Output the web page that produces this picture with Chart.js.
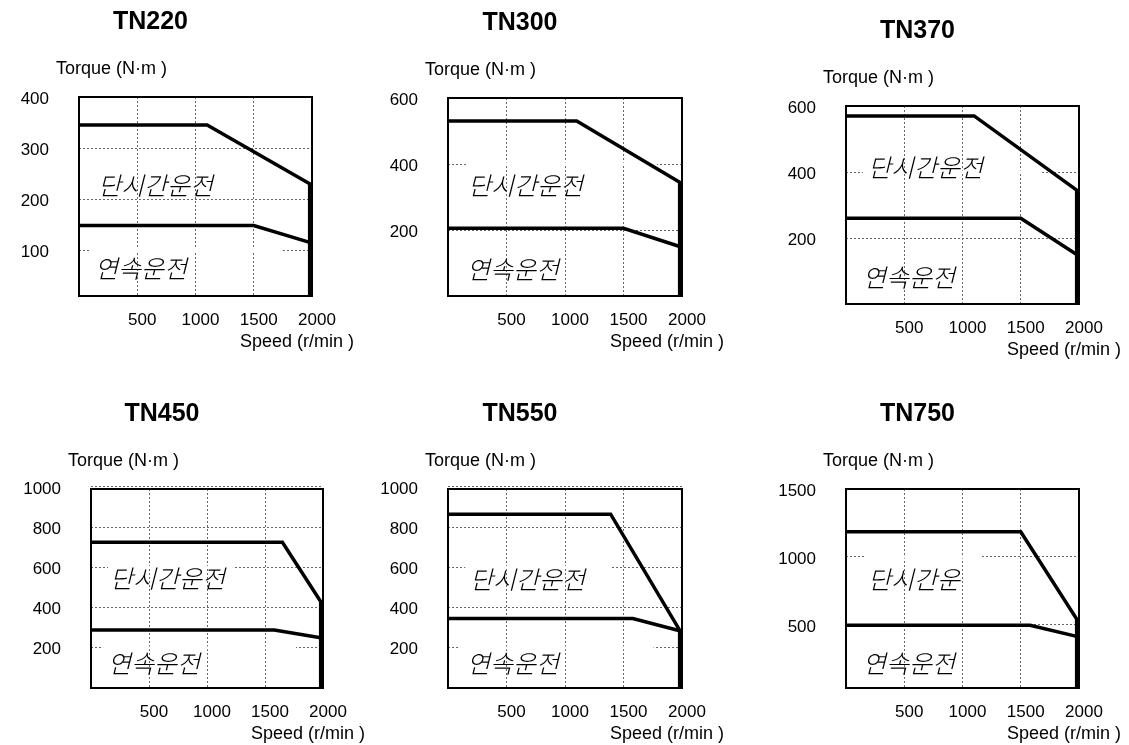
<!DOCTYPE html>
<html lang="ko">
<head>
<meta charset="utf-8">
<title>TN 토크 특성</title>
<script src="https://cdn.jsdelivr.net/npm/chart.js@4.4.1/dist/chart.umd.min.js"></script>
<style>
  html, body { margin: 0; padding: 0; background: #fff; }
  #wrap { position: relative; width: 1129px; height: 745px; overflow: hidden; }
  #wrap canvas { position: absolute; }
</style>
</head>
<body>
<div id="wrap"></div>
<script>
// ---------------------------------------------------------------
// data (speed in r/min, torque in N·m)
// ---------------------------------------------------------------
const models = ["TN220", "TN300", "TN370", "TN450", "TN550", "TN750"];
const speedTicks = [500, 1000, 1500, 2000];
const torqueTicks = [
  [100, 200, 300, 400],
  [200, 400, 600],
  [200, 400, 600],
  [200, 400, 600, 800, 1000],
  [200, 400, 600, 800, 1000],
  [500, 1000, 1500]
];

// short-time operation (단시간운전) - ends with the drop at max speed
const shortSpeed = [
  [0, 1100, 1980, 1980],
  [0, 1100, 1980, 1980],
  [0, 1100, 1980, 1980],
  [0, 1650, 1980, 1980],
  [0, 1390, 1980, 1980],
  [0, 1500, 1980, 1980]
];
const shortTorque = [
  [345, 345, 230, 0],
  [530, 530, 345, 0],
  [570, 570, 345, 0],
  [725, 725, 430, 0],
  [865, 865, 288, 0],
  [1185, 1185, 543, 0]
];

// continuous operation (연속운전)
const contSpeed = [
  [0, 1500, 1980],
  [0, 1500, 1980],
  [0, 1500, 1980],
  [0, 1580, 1980],
  [0, 1580, 1980],
  [0, 1580, 1980]
];
const contTorque = [
  [148, 148, 115],
  [205, 205, 150],
  [260, 260, 150],
  [288, 288, 250],
  [346, 346, 285],
  [497, 497, 415]
];

const shortText = ["단시간운전", "단시간운전", "단시간운전", "단시간운전", "단시간운전", "단시간운"];
const contText = "연속운전";

// ---------------------------------------------------------------
// layout (page pixels)
// ---------------------------------------------------------------
const colX = [0, 360, 740];
const colW = [380, 380, 389];   // canvases may overlap, they are transparent
const rowY = [0, 372];
const rowH = [372, 373];
const plotBox = [
  [79, 97, 312, 296],
  [448, 98, 682, 296],
  [846, 106, 1079, 304],
  [91, 489, 323, 688],
  [448, 489, 682, 688],
  [846, 489, 1079, 688]
];
const torqueRange = [[10, 400], [0, 600], [0, 600], [0, 990], [0, 990], [35, 1500]];
const shortPos = [[19, 88], [20, 87], [22, 61], [19, 89], [22, 90], [22, 90]];
const contPos = [[16, 171], [19, 171], [17, 171], [17, 174], [19, 174], [17, 174]];
// horizontal grid pieces hidden behind the labels: [torque, fromSpeed, toSpeed]
const gridGaps = [
  [[100, 100, 1750]],
  [[400, 155, 1786]],
  [[400, 146, 1682]],
  [[600, 147, 1224], [200, 86, 1767]],
  [[600, 147, 1390], [200, 103, 1757]],
  [[1000, 155, 1150]]
];

const AXIS_W = 75;
const AXIS_H = 40;
const SANS = '"Liberation Sans", Arial, sans-serif';

// ---------------------------------------------------------------
// plugin: box, titles, axis names, Korean region labels
// ---------------------------------------------------------------
const paperPlugin = {
  id: "paper",
  beforeDatasetsDraw(chart, args, o) {
    const { ctx, chartArea: a, scales: { x, y } } = chart;
    ctx.save();
    ctx.fillStyle = "#fff";
    o.gaps.forEach(([t, s0, s1]) => {
      const py = y.getPixelForValue(t);
      const x0 = x.getPixelForValue(s0);
      ctx.fillRect(x0, py - 1.5, x.getPixelForValue(s1) - x0, 3);
    });
    ctx.fillStyle = "#000";
    ctx.font = 'italic 300 25px "Noto Sans CJK KR"';
    ctx.textAlign = "left";
    ctx.textBaseline = "middle";
    ctx.fillText(o.shortText, a.left + o.shortPos[0], a.top + o.shortPos[1]);
    ctx.fillText(contText, a.left + o.contPos[0], a.top + o.contPos[1]);
    ctx.restore();
  },
  afterDatasetsDraw(chart, args, o) {
    const { ctx, chartArea: a } = chart;
    ctx.save();
    ctx.strokeStyle = "#000";
    ctx.lineWidth = 2;
    ctx.strokeRect(a.left, a.top, a.right - a.left, a.bottom - a.top);

    ctx.fillStyle = "#000";
    ctx.textBaseline = "middle";
    ctx.font = "bold 25px " + SANS;
    ctx.textAlign = "center";
    ctx.fillText(o.title, (a.left + a.right) / 2 - 45, a.top - 75);

    ctx.font = "18px " + SANS;
    ctx.textAlign = "left";
    ctx.fillText("Torque (N·m )", a.left - 23, a.top - 28);
    ctx.fillText("Speed (r/min )", a.right - 72, a.bottom + 46);
    ctx.restore();
  }
};

// ---------------------------------------------------------------
// build the six charts
// ---------------------------------------------------------------
const wrap = document.getElementById("wrap");

models.forEach((name, i) => {
  const ox = colX[i % 3], oy = rowY[Math.floor(i / 3)];
  const cw = colW[i % 3], ch = rowH[Math.floor(i / 3)];
  const [l, t, r, b] = plotBox[i];

  const canvas = document.createElement("canvas");
  canvas.width = cw;
  canvas.height = ch;
  canvas.style.left = ox + "px";
  canvas.style.top = oy + "px";
  wrap.appendChild(canvas);

  const line = (xs, ys) => xs.map((s, k) => ({ x: s, y: ys[k] }));

  new Chart(canvas.getContext("2d"), {
    type: "line",
    data: {
      datasets: [
        {
          label: "단시간운전",
          data: line(shortSpeed[i], shortTorque[i]),
          borderColor: "#000",
          borderWidth: 3.5,
          pointRadius: 0,
          tension: 0,
          fill: false
        },
        {
          label: "연속운전",
          data: line(contSpeed[i], contTorque[i]),
          borderColor: "#000",
          borderWidth: 3.5,
          pointRadius: 0,
          tension: 0,
          fill: false
        }
      ]
    },
    options: {
      responsive: false,
      animation: false,
      devicePixelRatio: 1,
      layout: {
        padding: {
          left: l - ox - AXIS_W,
          top: t - oy,
          right: cw - (r - ox),
          bottom: ch - (b - oy) - AXIS_H
        }
      },
      scales: {
        x: {
          type: "linear",
          min: 0,
          max: 2000,
          afterBuildTicks: s => { s.ticks = speedTicks.map(v => ({ value: v })); },
          afterFit: s => { s.height = AXIS_H; s.paddingLeft = 0; s.paddingRight = 0; },
          grid: { color: "#666", lineWidth: 1, drawTicks: false },
          border: { display: false, dash: [2, 2] },
          ticks: {
            color: "#000",
            font: { family: SANS, size: 17 },
            padding: 14,
            labelOffset: 5,
            autoSkip: false,
            maxRotation: 0,
            callback: v => String(v)
          }
        },
        y: {
          type: "linear",
          min: torqueRange[i][0],
          max: torqueRange[i][1],
          afterBuildTicks: s => { s.ticks = torqueTicks[i].map(v => ({ value: v })); },
          afterFit: s => { s.width = AXIS_W; s.paddingTop = 0; s.paddingBottom = 0; },
          grid: { color: "#666", lineWidth: 1, drawTicks: false },
          border: { display: false, dash: [2, 2] },
          ticks: {
            color: "#000",
            font: { family: SANS, size: 17 },
            padding: 30,
            labelOffset: 2,
            autoSkip: false,
            callback: v => String(v)
          }
        }
      },
      plugins: {
        legend: { display: false },
        tooltip: { enabled: false },
        paper: {
          title: name,
          shortText: shortText[i],
          shortPos: shortPos[i],
          contPos: contPos[i],
          gaps: gridGaps[i]
        }
      }
    },
    plugins: [paperPlugin]
  });
});
</script>
</body>
</html>
